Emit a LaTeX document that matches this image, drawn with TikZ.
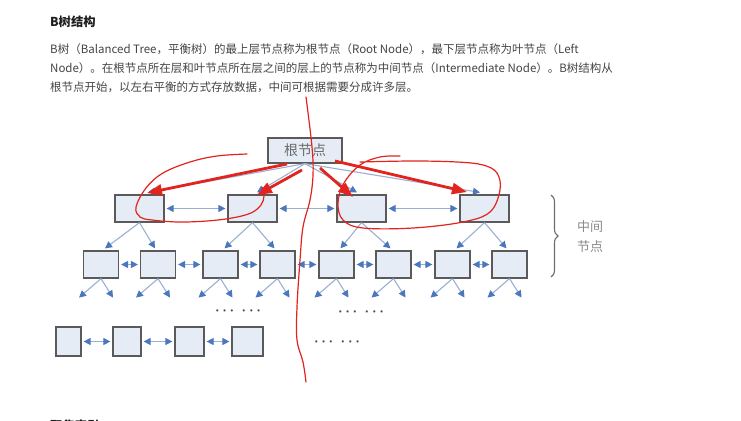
\documentclass[tikz,border=0pt]{standalone}
\usepackage{fontspec}
\setmainfont{Noto Sans CJK SC}
\usetikzlibrary{arrows.meta,calc,decorations.pathreplacing}
\definecolor{bodytxt}{HTML}{454545}
\definecolor{headtxt}{HTML}{1E1E1E}
\definecolor{boxline}{HTML}{5A5A5A}
\definecolor{boxfill}{HTML}{E6ECF5}
\definecolor{linkline}{HTML}{9AB0D3}
\definecolor{linktip}{HTML}{4A77BE}
\definecolor{pen}{HTML}{E2231E}
\definecolor{labelgray}{HTML}{8A8A8A}
\begin{document}
\begin{tikzpicture}[x=1pt,y=-1pt,
  para/.style={anchor=west,inner sep=0pt,text=bodytxt,font=\fontsize{11.5}{19}\selectfont},
  head/.style={anchor=west,inner sep=0pt,text=headtxt,font=\fontsize{12.3}{15}\selectfont\bfseries},
  tbox/.style={draw=boxline,fill=boxfill,line width=1.2pt,inner sep=0pt},
  rootbox/.style={tbox,minimum width=74pt,minimum height=25pt,text=boxline!90,font=\fontsize{14}{14}\selectfont},
  midbox/.style={tbox,minimum width=49pt,minimum height=27pt},
  lowbox/.style={tbox,minimum width=35pt,minimum height=27pt},
  leafbox/.style={tbox,minimum height=29pt},
  link/.style={draw=linkline,line width=1.1pt,-{Triangle[length=7pt,width=7pt,color=linktip]}},
  twoway/.style={draw=linkline,line width=1.1pt,
    {Triangle[length=7pt,width=7pt,color=linktip]}-{Triangle[length=7pt,width=7pt,color=linktip]},
    shorten <=2pt,shorten >=2pt},
  dots/.style={inner sep=0pt,text=headtxt!80,font=\fontsize{14}{14}\selectfont\boldmath},
  penline/.style={draw=pen,line width=1.2pt,line cap=round,line join=round},
  penarrow/.style={draw=pen,line width=2.8pt,-{Triangle[length=15pt,width=11pt,color=pen]}},
]
\useasboundingbox (0,0) rectangle (741,420);
\fill[white] (0,0) rectangle (741,420);
\clip (0,0) rectangle (741,420);

% heading and paragraph
\node[head] (title) at (50,22) {B树结构};
\node[para] (p1) at (50,49) {B树（Balanced Tree，平衡树）的最上层节点称为根节点（Root Node），最下层节点称为叶节点（Left};
\node[para] (p2) at (50,68) {Node）。在根节点所在层和叶节点所在层之间的层上的节点称为中间节点（Intermediate Node）。B树结构从};
\node[para] (p3) at (50,87) {根节点开始，以左右平衡的方式存放数据，中间可根据需要分成许多层。};
\node[head] (next) at (50,426) {聚集索引};

% root
\node[rootbox] (root) at (305,150.5) {根节点};

% first intermediate level
\node[midbox] (A) at (139.5,208.5) {};
\node[midbox] (B) at (252.5,208.5) {};
\node[midbox] (C) at (361.5,208.5) {};
\node[midbox] (D) at (484.5,208.5) {};

% second intermediate level
\foreach \i/\x in {1/101,2/158,3/220.5,4/277.5,5/336.5,6/393.5,7/452.5,8/509.5}
  \node[lowbox] (L\i) at (\x,264.5) {};

% leaf level
\node[leafbox,minimum width=25pt] (F1) at (68.5,341.5) {};
\node[leafbox,minimum width=28pt] (F2) at (127,341.5) {};
\node[leafbox,minimum width=29pt] (F3) at (189.5,341.5) {};
\node[leafbox,minimum width=31pt] (F4) at (247.5,341.5) {};

% root to first level
\draw[link] (root.south) -- ($(A.north)+(8.5,-2)$);
\draw[link] (root.south) -- ($(B.north)+(4.5,-2)$);
\draw[link] (root.south) -- ($(C.north)+(-4.5,-2)$);
\draw[link] (root.south) -- ($(D.north)+(-4.5,-2)$);

% first level to second level
\foreach \p/\l/\r in {A/L1/L2,B/L3/L4,C/L5/L6,D/L7/L8}{
  \draw[link] (\p.south) -- ($(\l.north)+(4,-2)$);
  \draw[link] (\p.south) -- ($(\r.north)+(-3,-2)$);
}

% second level to the levels below
\foreach \i in {1,...,8}{
  \draw[link] (L\i.south) -- +(-22,19);
  \draw[link] (L\i.south) -- +(12,19);
}

% sibling links
\draw[twoway] (A.east) -- (B.west);
\draw[twoway] (B.east) -- (C.west);
\draw[twoway] (C.east) -- (D.west);
\foreach \a/\b in {1/2,2/3,3/4,4/5,5/6,6/7,7/8}
  \draw[twoway] (L\a.east) -- (L\b.west);
\foreach \a/\b in {1/2,2/3,3/4}
  \draw[twoway] (F\a.east) -- (F\b.west);

% omitted nodes
\node[dots] (dotsA) at (238,311) {$\cdots\;\cdots$};
\node[dots] (dotsB) at (361,312) {$\cdots\;\cdots$};
\node[dots] (dotsC) at (337,342) {$\cdots\;\cdots$};

% brace and its label
\draw[draw=labelgray!80!black,line width=1.1pt,decorate,decoration={brace,amplitude=7pt}]
  (551,195) -- (551,277);
\node[inner sep=0pt,text=labelgray,font=\fontsize{13}{20}\selectfont,align=center] (mid) at (590,237) {中间\\节点};

% hand-drawn pen marks
\draw[penline] plot[smooth,tension=0.6] coordinates {(306,97) (312,147) (313,175) (310,200) (303,227) (300,260) (297,307) (297,340) (303,362) (306,382)};
\draw[penline] plot[smooth,tension=0.6] coordinates {(247,154) (217,156) (190,162) (163,173) (146,188) (136,207) (140,217) (152,220) (178,222) (207,221) (232,218) (251,213) (261,205) (264,196) (262,187)};
\draw[penline] plot[smooth,tension=0.6] coordinates {(400,156) (380,157) (360,165) (344,183) (338,203) (343,220) (363,228) (413,228) (463,222) (490,212) (500,190) (497,173) (483,165) (457,162) (413,161) (360,162)};
\draw[penarrow] (287,164) -- (147,193);
\draw[penarrow] (302,170) -- (257,195);
\draw[penarrow] (320,168) -- (353,197);
\draw[penarrow] (335,161) -- (467,192);
\end{tikzpicture}
\end{document}
